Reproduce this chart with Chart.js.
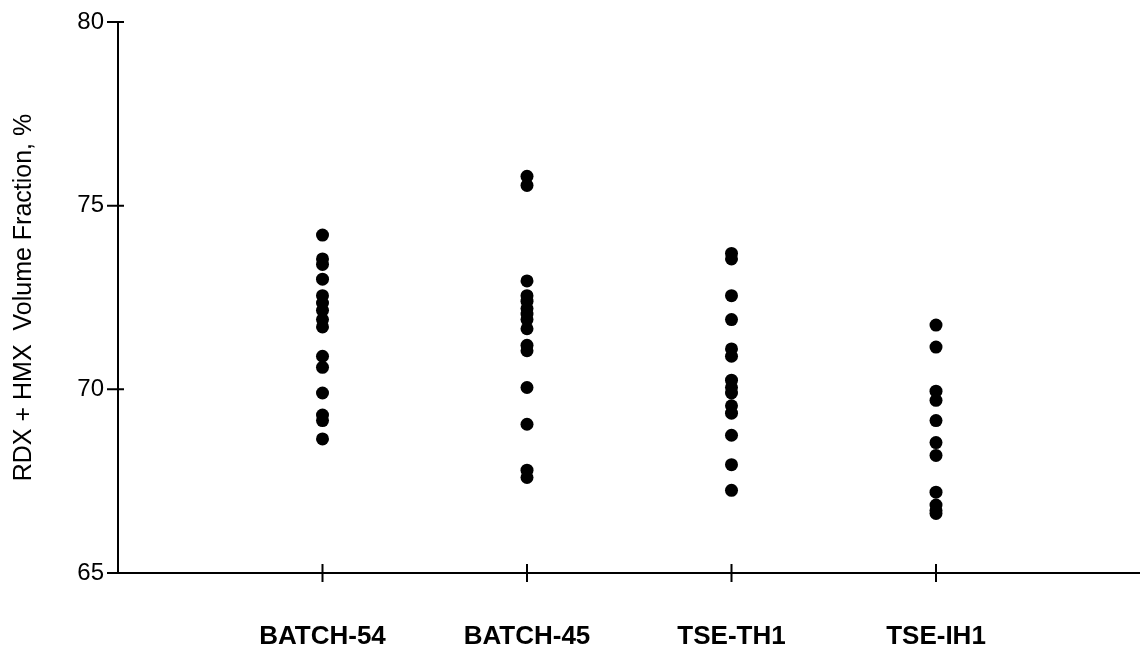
<!DOCTYPE html>
<html>
<head>
<meta charset="utf-8">
<script src="https://cdn.jsdelivr.net/npm/chart.js@4/dist/chart.umd.min.js"></script>
<style>
  html, body { margin: 0; padding: 0; background: #fff; overflow: hidden; }
  /* un poco mas ancho para que el eje X llegue al borde derecho */
  #wrap { width: 1147px; height: 654px; }
</style>
</head>
<body>
<div id="wrap"><canvas id="chartVol"></canvas></div>
<script>
// categorias del eje X
const categorias = ['BATCH-54', 'BATCH-45', 'TSE-TH1', 'TSE-IH1'];

// valores (RDX + HMX, % en volumen)
const batch54 = [74.2, 73.55, 73.4, 73.0, 72.55, 72.35, 72.15, 71.9, 71.7, 70.9, 70.6, 69.9, 69.3, 69.15, 68.65];
const batch45 = [75.8, 75.55, 72.95, 72.55, 72.4, 72.2, 72.05, 71.9, 71.65, 71.2, 71.05, 70.05, 69.05, 67.8, 67.6];
const tseTh1 = [73.7, 73.55, 72.55, 71.9, 71.1, 70.9, 70.25, 70.05, 69.9, 69.55, 69.35, 68.75, 67.95, 67.25];
const tseIh1 = [71.75, 71.15, 69.95, 69.7, 69.15, 68.55, 68.2, 67.2, 66.85, 66.7, 66.62];

// ticks del eje Y
const ticksY = [65, 70, 75, 80];

const series = [batch54, batch45, tseTh1, tseIh1];

// armamos los datasets: cada columna en su posicion 1..4
const datasets = series.map((valores, i) => ({
  label: categorias[i],
  data: valores.map(v => ({ x: i + 1, y: v })),
  backgroundColor: '#000',
  borderWidth: 0,
  pointRadius: 6.5,
  pointHoverRadius: 6.5
}));

// marcas que cruzan los ejes, como en el original
const marcasEjes = {
  id: 'marcasEjes',
  afterDraw(chart) {
    const { ctx, chartArea, scales } = chart;
    ctx.save();
    ctx.strokeStyle = '#000';
    ctx.lineWidth = 2;
    ctx.beginPath();
    categorias.forEach((c, i) => {
      const px = scales.x.getPixelForValue(i + 1);
      ctx.moveTo(px, chartArea.bottom - 9);
      ctx.lineTo(px, chartArea.bottom + 9);
    });
    ticksY.forEach(v => {
      const py = scales.y.getPixelForValue(v);
      ctx.moveTo(chartArea.left - 11, py);
      ctx.lineTo(chartArea.left + 6, py);
    });
    ctx.stroke();
    ctx.restore();
  }
};

new Chart(document.getElementById('chartVol'), {
  type: 'scatter',
  data: { datasets },
  options: {
    responsive: true,
    maintainAspectRatio: false,
    animation: false,
    layout: { padding: { top: 22, right: 0, bottom: 0, left: 0 } },
    plugins: {
      legend: { display: false },
      tooltip: { enabled: false }
    },
    scales: {
      x: {
        type: 'linear',
        min: 0,
        max: 5,
        afterFit: (s) => { s.height = 81; s.paddingLeft = 0; s.paddingRight = 0; },
        grid: { drawOnChartArea: false, drawTicks: false },
        border: { display: true, color: '#000', width: 2 },
        ticks: {
          stepSize: 1,
          autoSkip: false,
          maxRotation: 0,
          padding: 48,
          color: '#000',
          font: { family: 'Liberation Sans, Arial, sans-serif', size: 26, weight: 'bold' },
          callback: (v) => categorias[v - 1] || ''
        }
      },
      y: {
        min: 65,
        max: 80,
        afterFit: (s) => { s.width = 118; s.paddingTop = 0; s.paddingBottom = 0; },
        grid: { drawOnChartArea: false, drawTicks: false },
        border: { display: true, color: '#000', width: 2 },
        ticks: {
          stepSize: 5,
          padding: 14,
          color: '#000',
          font: { family: 'Liberation Sans, Arial, sans-serif', size: 24 }
        },
        title: {
          display: true,
          text: 'RDX + HMX  Volume Fraction, %',
          color: '#000',
          padding: { top: 9, bottom: 0 },
          font: { family: 'Liberation Sans, Arial, sans-serif', size: 25 }
        }
      }
    }
  },
  plugins: [marcasEjes]
});
</script>
</body>
</html>
